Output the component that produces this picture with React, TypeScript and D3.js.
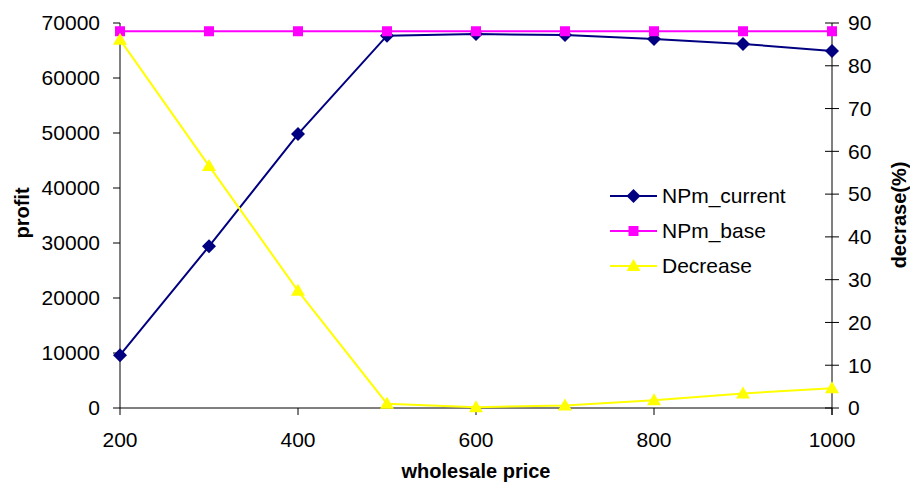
import { useMemo } from "react";
import * as d3 from "d3";

const prices = [200, 300, 400, 500, 600, 700, 800, 900, 1000];
const npmCurrent = [9600, 29400, 49800, 67700, 68000, 67800, 67100, 66200, 64900];
const npmBase = [68500, 68500, 68500, 68500, 68500, 68500, 68500, 68500, 68500];
const decrease = [86.1, 56.6, 27.4, 1.0, 0.2, 0.6, 1.8, 3.4, 4.6];
const profitTicks = [0, 10000, 20000, 30000, 40000, 50000, 60000, 70000];
const pctTicks = [0, 10, 20, 30, 40, 50, 60, 70, 80, 90];
const priceTicks = [200, 400, 600, 800, 1000];

const W = 910;
const H = 485;
const margin = { left: 120, right: 78, top: 23, bottom: 77 };
const FONT = "'Liberation Sans', Arial, sans-serif";

export default function App() {
  const x = useMemo(
    () => d3.scaleLinear().domain([200, 1000]).range([margin.left, W - margin.right]),
    []
  );
  const yL = useMemo(
    () => d3.scaleLinear().domain([0, 70000]).range([H - margin.bottom, margin.top]),
    []
  );
  const yR = useMemo(
    () => d3.scaleLinear().domain([0, 90]).range([H - margin.bottom, margin.top]),
    []
  );

  const lineL = d3
    .line<number>()
    .x((_, i) => x(prices[i]))
    .y((d) => yL(d));
  const lineR = d3
    .line<number>()
    .x((_, i) => x(prices[i]))
    .y((d) => yR(d));

  const x0 = x(200);
  const x1 = x(1000);
  const yb = yL(0);

  const diamond = (cx: number, cy: number, key: string | number) => (
    <path
      key={key}
      d={`M${cx},${cy - 7}L${cx + 7},${cy}L${cx},${cy + 7}L${cx - 7},${cy}Z`}
      fill="#000080"
    />
  );
  const square = (cx: number, cy: number, key: string | number) => (
    <rect key={key} x={cx - 5} y={cy - 5} width={10} height={10} fill="#FF00FF" />
  );
  const triangle = (cx: number, cy: number, key: string | number) => (
    <path
      key={key}
      d={`M${cx},${cy - 7}L${cx + 7},${cy + 5}L${cx - 7},${cy + 5}Z`}
      fill="#FFFF00"
    />
  );

  const legend = [
    { label: "NPm_current", color: "#000080", marker: diamond },
    { label: "NPm_base", color: "#FF00FF", marker: square },
    { label: "Decrease", color: "#FFFF00", marker: triangle },
  ];

  return (
    <svg
      width={W}
      height={H}
      style={{ position: "absolute", left: 0, top: 0, background: "#fff" }}
      fontFamily={FONT}
    >
      {/* left axis */}
      <line x1={x0} x2={x0} y1={yL(70000)} y2={yb} stroke="#000" />
      {profitTicks.map((t) => (
        <g key={t}>
          <line x1={x0 - 7} x2={x0} y1={yL(t)} y2={yL(t)} stroke="#000" />
          <text x={x0 - 20} y={yL(t)} dy="0.35em" textAnchor="end" fontSize={21}>
            {t}
          </text>
        </g>
      ))}
      {/* right axis */}
      <line x1={x1} x2={x1} y1={yR(90)} y2={yb + 7} stroke="#000" />
      {pctTicks.map((t) => (
        <g key={t}>
          <line x1={x1 - 7} x2={x1 + 7} y1={yR(t)} y2={yR(t)} stroke="#000" />
          <text x={x1 + 16} y={yR(t)} dy="0.35em" fontSize={21}>
            {t}
          </text>
        </g>
      ))}
      {/* bottom axis */}
      <line x1={x0} x2={x1} y1={yb} y2={yb} stroke="#000" />
      {priceTicks.map((t) => (
        <g key={t}>
          <line x1={x(t)} x2={x(t)} y1={yb} y2={yb + 7} stroke="#000" />
          <text x={x(t)} y={440} dy="0.35em" textAnchor="middle" fontSize={21}>
            {t}
          </text>
        </g>
      ))}

      {/* titles */}
      <text x={476} y={471} dy="0.35em" textAnchor="middle" fontSize={20} fontWeight="bold">
        wholesale price
      </text>
      <text
        transform="translate(22,213) rotate(-90)"
        dy="0.35em"
        textAnchor="middle"
        fontSize={20}
        fontWeight="bold"
      >
        profit
      </text>
      <text
        transform="translate(899,215) rotate(-90)"
        dy="0.35em"
        textAnchor="middle"
        fontSize={20}
        fontWeight="bold"
      >
        decrase(%)
      </text>

      {/* series */}
      <path d={lineL(npmCurrent) ?? ""} fill="none" stroke="#000080" strokeWidth={2} />
      {npmCurrent.map((v, i) => diamond(x(prices[i]), yL(v), i))}
      <path d={lineL(npmBase) ?? ""} fill="none" stroke="#FF00FF" strokeWidth={2} />
      {npmBase.map((v, i) => square(x(prices[i]), yL(v), i))}
      <path d={lineR(decrease) ?? ""} fill="none" stroke="#FFFF00" strokeWidth={2} />
      {decrease.map((v, i) => triangle(x(prices[i]), yR(v), i))}

      {/* legend */}
      {legend.map((l, i) => {
        const ly = 196 + i * 35;
        return (
          <g key={l.label}>
            <line x1={610} x2={657} y1={ly} y2={ly} stroke={l.color} strokeWidth={2} />
            {l.marker(633.5, ly, "m")}
            <text x={662} y={ly} dy="0.35em" fontSize={21}>
              {l.label}
            </text>
          </g>
        );
      })}
    </svg>
  );
}
